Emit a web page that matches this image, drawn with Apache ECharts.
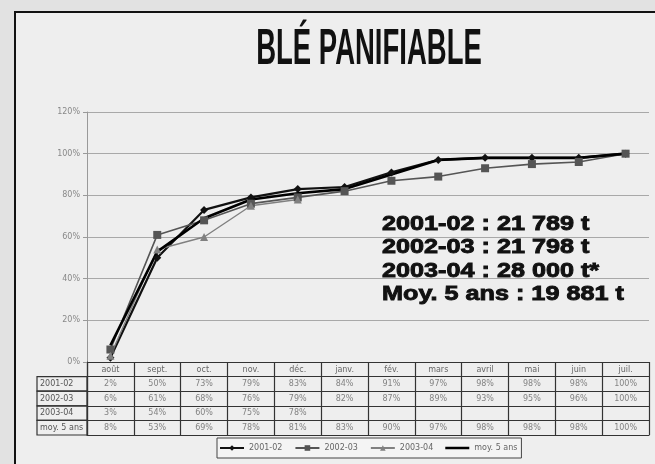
<!DOCTYPE html>
<html>
<head>
<meta charset="utf-8">
<script src="https://cdn.jsdelivr.net/npm/echarts@6/dist/echarts.min.js"></script>
<style>
html,body{margin:0;padding:0;background:#e2e2e2;}
#chart{width:655px;height:464px;}
</style>
</head>
<body>
<div id="chart"></div>
<script>
const categories = ['août','sept.','oct.','nov.','déc.','janv.','fév.','mars','avril','mai','juin','juil.'];
const seriesNames = ['2001-02','2002-03','2003-04','moy. 5 ans'];
const s2001 = [2,50,73,79,83,84,91,97,98,98,98,100];
const s2002 = [6,61,68,76,79,82,87,89,93,95,96,100];
const s2003 = [3,54,60,75,78];
const sMoy  = [8,53,69,78,81,83,90,97,98,98,98,100];
const yTicks = [0,20,40,60,80,100,120];
const titleText = 'BLÉ PANIFIABLE';
const notes = ['2001-02 : 21 789 t','2002-03 : 21 798 t','2003-04 : 28 000 t*','Moy. 5 ans : 19 881 t'];

const allSeries = [s2001, s2002, s2003, sMoy];
const rowKeys = ['hdr'].concat(seriesNames);

const tableData = [];
allSeries.forEach((arr, r) => {
  arr.forEach((v, c) => {
    if (v != null) tableData.push([c, r + 1, v + '%']);
  });
});

const chart = echarts.init(document.getElementById('chart'));
const font = '"DejaVu Sans", sans-serif';

const graphic = [
  {type:'rect', z:-10, silent:true, shape:{x:15, y:12, width:700, height:520},
   style:{fill:'#eeeeee', stroke:'#111', lineWidth:2}},
  {type:'text', x:369, y:50, scaleX:0.55, z:10,
   style:{text:titleText, x:0, y:0, textAlign:'center', textVerticalAlign:'middle',
          font:'bold 50px "Liberation Sans", Arial, sans-serif', fill:'#111'}}
];
notes.forEach((t, i) => {
  graphic.push({type:'text', x:382, y:224.5 + i*23.2, scaleX:1.2, z:10,
    style:{text:t, x:0, y:0, textAlign:'left', textVerticalAlign:'middle',
           font:'bold 21px "Liberation Sans", Arial, sans-serif', fill:'#111',
           stroke:'#111', lineWidth:0.9}});
});

const lineSeries = [
  {name:seriesNames[0], data:s2001, symbol:'diamond', symbolSize:8,
   color:'#111', lineStyle:{width:2.2, color:'#111'}, itemStyle:{color:'#111'}},
  {name:seriesNames[1], data:s2002, symbol:'rect', symbolSize:8,
   color:'#555', lineStyle:{width:1.6, color:'#555'}, itemStyle:{color:'#555'}},
  {name:seriesNames[2], data:s2003, symbol:'triangle', symbolSize:8,
   color:'#808080', lineStyle:{width:1.4, color:'#808080'}, itemStyle:{color:'#808080'}},
  {name:seriesNames[3], data:sMoy, symbol:'none', symbolSize:0,
   color:'#000', lineStyle:{width:2.6, color:'#000'}, itemStyle:{color:'#000'}}
].map(s => Object.assign({type:'line', xAxisIndex:0, yAxisIndex:0, showSymbol:s.symbol!=='none', z:3, animation:false}, s));

const legendData = seriesNames.map((n, i) => i === 3 ? {name:n, icon:'path://M0,0L48,0L48,5L0,5Z'} : {name:n});

const option = {
  backgroundColor:'#e2e2e2',
  animation:false,
  graphic: graphic,
  grid:[
    {left:87, right:6, top:112, height:250},
    {left:87, right:6, top:362, height:73}
  ],
  legend:{
    data:legendData, left:217, top:438, orient:'horizontal',
    padding:[6,4,6,2], itemWidth:24, itemHeight:7, itemGap:12,
    textStyle:{fontSize:8, color:'#666', fontFamily:font},
    borderColor:'#444', borderWidth:1, backgroundColor:'#f4f4f4'
  },
  xAxis:[
    {type:'category', gridIndex:0, data:categories, boundaryGap:true,
     axisLine:{show:true, lineStyle:{color:'#333', width:1}},
     axisTick:{show:false},
     axisLabel:{show:true, margin:4, fontSize:8, color:'#666', fontFamily:font, interval:0},
     splitLine:{show:false}},
    {type:'category', gridIndex:1, data:categories, boundaryGap:true, position:'bottom',
     axisLine:{show:true, lineStyle:{color:'#333', width:1.2}},
     axisTick:{show:false}, axisLabel:{show:false},
     splitLine:{show:true, interval:0, lineStyle:{color:'#333', width:1.2}}}
  ],
  yAxis:[
    {type:'value', gridIndex:0, min:yTicks[0], max:yTicks[yTicks.length-1], interval:20,
     axisLine:{show:true, lineStyle:{color:'#999'}},
     axisTick:{show:true, length:4, lineStyle:{color:'#999'}},
     axisLabel:{formatter:'{value}%', fontSize:8, color:'#888', fontFamily:font, margin:7},
     splitLine:{show:true, lineStyle:{color:'#a8a8a8', width:1}}},
    {type:'category', gridIndex:1, data:rowKeys, inverse:true, boundaryGap:true,
     axisLine:{show:true, lineStyle:{color:'#333', width:1.2}},
     axisTick:{show:false},
     axisLabel:{margin:0, interval:0,
       formatter:function(v){ return v === 'hdr' ? '' : '{b|' + v + '}'; },
       rich:{b:{width:47, height:14.6, lineHeight:14.6, padding:[0,0,0,3],
                borderColor:'#333', borderWidth:1.2, fontSize:8, color:'#555',
                fontFamily:font, align:'left'}}},
     splitLine:{show:true, interval:0, lineStyle:{color:'#333', width:1.2}}}
  ],
  series: lineSeries.concat([
    {type:'scatter', name:'table', xAxisIndex:1, yAxisIndex:1, data:tableData,
     symbolSize:0, silent:true, z:5,
     label:{show:true, position:'inside', formatter:function(p){return p.value[2];},
            fontSize:8, color:'#666', fontFamily:font}}
  ])
};
chart.setOption(option);
</script>
</body>
</html>
